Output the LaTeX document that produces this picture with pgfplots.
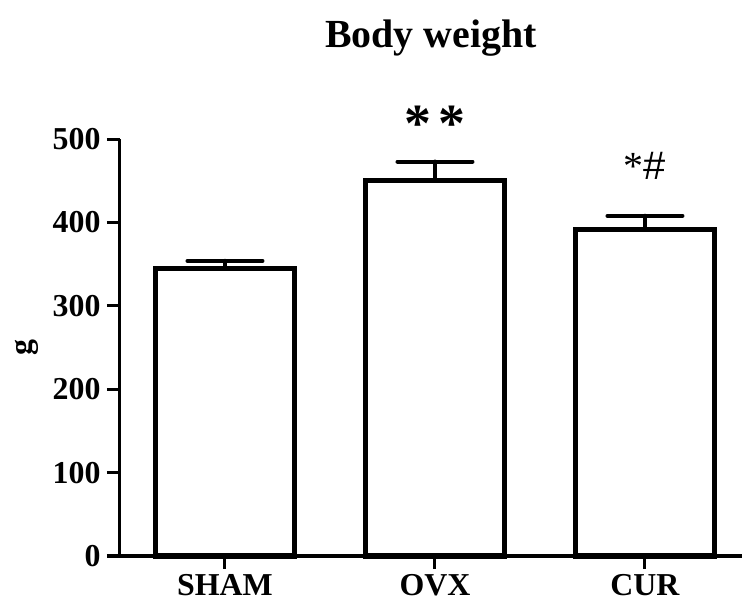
\documentclass[border=0pt]{standalone}
\usepackage{fontspec}
\setmainfont{Liberation Serif}
\newfontfamily\arialfont{Liberation Sans}
\usepackage{pgfplots}
\pgfplotsset{compat=1.18}
\begin{document}
\begin{tikzpicture}
\path[use as bounding box] (-120bp,-45bp) rectangle (622bp,556bp);
\begin{axis}[
  scale only axis,
  width=622bp, height=417bp,
  xmin=-0.5, xmax=2.462,
  ymin=0, ymax=500,
  clip=false,
  axis x line=bottom, axis y line=left,
  axis line style={-, line width=3bp},
  x axis line style={-},
  y axis line style={-},
  xtick={0,1,2},
  xticklabels={SHAM,OVX,CUR},
  ytick={0,100,200,300,400,500},
  tick align=outside,
  major tick length=13bp,
  tick style={line width=3bp, black},
  /pgf/number format/assume math mode=true,
  ticklabel style={font=\fontsize{32}{32}\selectfont\bfseries},
  yticklabel style={xshift=-3bp},
  xticklabel style={yshift=-2bp},
]
\addplot[ybar, bar width=139bp, fill=white, draw=black, line width=5bp,
  error bars/.cd, y dir=plus, y explicit,
  error mark=|,
  error bar style={line width=4bp, line cap=round},
  error mark options={line width=4bp, mark size=37.5bp, line cap=round}]
  coordinates {(0,345) +- (0,9) (1,450) +- (0,23) (2,391) +- (0,17)};
\node[font=\fontsize{40}{40}\selectfont\bfseries] at (rel axis cs:0.5,1) [yshift=101bp] {Body weight};
\node[font=\fontsize{32}{32}\selectfont\bfseries, xshift=-93bp, rotate=90] at (rel axis cs:0,0.5) {g};
\node[font=\fontsize{54}{54}\selectfont\bfseries] at (axis cs:1,518) {*\kern7bp*};
\node[font=\fontsize{40}{40}\selectfont] at (axis cs:2,468) {*\arialfont\#};
\end{axis}
\end{tikzpicture}
\end{document}
